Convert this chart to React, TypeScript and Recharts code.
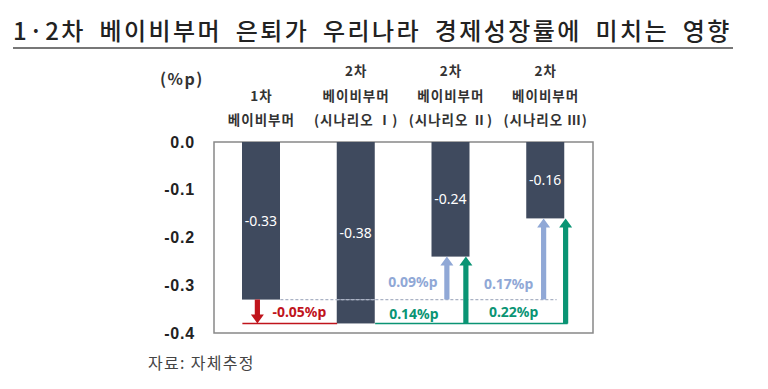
import {
  BarChart,
  Bar,
  XAxis,
  YAxis,
  LabelList,
  ReferenceLine,
  ReferenceDot,
  ReferenceArea,
} from 'recharts';

// category labels (multi-line, bottom aligned)
const categories = [
  ['1차', '베이비부머'],
  ['2차', '베이비부머', '(시나리오 Ⅰ)'],
  ['2차', '베이비부머', '(시나리오 Ⅱ)'],
  ['2차', '베이비부머', '(시나리오 Ⅲ)'],
];
const names = ['c1', 'c2', 'c3', 'c4'];
const values = [-0.33, -0.38, -0.24, -0.16];
const yTicks = [0, -0.1, -0.2, -0.3, -0.4];

// difference arrows: from level -> to level, anchored on a category
const diffCat = [0, 2, 2, 3, 3];
const diffFrom = [-0.33, -0.33, -0.38, -0.33, -0.38];
const diffTo = [-0.38, -0.24, -0.24, -0.16, -0.16];
const diffLabels = ['-0.05%p', '0.09%p', '0.14%p', '0.17%p', '0.22%p'];
const diffLabelY = [-0.356, -0.293, -0.361, -0.298, -0.357];

const BAR = '#3f4a5e';
const RED = '#c0141c';
const GREEN = '#0a9474';
const LIGHT = '#90a8d6';
const DASH = '#aab2c4';

// pixel offsets from the band centre (styling only)
const arrowDx = [-4, -4, 15, -2, 20];
const labelDx = [38, -38, -37, -37, -32];
const arrowColor = [RED, LIGHT, GREEN, LIGHT, GREEN];

const data = values.map((v, i) => ({ name: names[i], value: v }));

const CategoryTick = (props: any) => {
  const { x, y, payload } = props;
  const lines = categories[names.indexOf(payload.value)] || [];
  const offs = [-17, -41, -66];
  return (
    <g>
      {lines
        .slice()
        .reverse()
        .map((t, i) => (
          <text
            key={i}
            x={x}
            y={y + offs[i]}
            textAnchor='middle'
            fontSize={13.5}
            fontWeight={700}
            letterSpacing={1}
            fill='#333'
            fontFamily='"Noto Sans CJK KR", sans-serif'>
            {t}
          </text>
        ))}
    </g>
  );
};

// bar with the dashed baseline (-0.33 level) drawn over it where it crosses
const BarShape = (p: any) => {
  const { x, y, width, height, value } = p;
  const v = Array.isArray(value) ? value[1] : value;
  const top = Math.min(y, y + height);
  const h = Math.abs(height);
  const base = values[0];
  let dash = null;
  if (v < base) {
    // y is the value end, y + height is the zero line
    const yl = y + height * (1 - base / v);
    dash = (
      <line
        x1={x}
        x2={x + width}
        y1={yl}
        y2={yl}
        stroke={DASH}
        strokeWidth={1.2}
        strokeDasharray='3 2'
      />
    );
  }
  return (
    <g>
      <rect x={x} y={top} width={width} height={h} fill={BAR} />
      {dash}
    </g>
  );
};

const Arrow = (color: string, up: boolean, dx: number) => (p: any) => {
  const x = p.x1 + dx;
  const ya = p.y1;
  const tip = p.y2;
  const head = 9;
  const base = up ? tip + head : tip - head;
  const sw = 2.6;
  const hw = 6.5;
  return (
    <polygon
      points={`${x - sw},${ya} ${x + sw},${ya} ${x + sw},${base} ${x + hw},${base} ${x},${tip} ${x - hw},${base} ${x - sw},${base}`}
      fill={color}
    />
  );
};

const HLine =
  (dx1: number, dx2: number, stroke: string, dash?: string, w = 1.5) =>
  (p: any) => (
    <line
      x1={p.x1 + dx1}
      x2={p.x2 + dx2}
      y1={p.y1}
      y2={p.y2}
      stroke={stroke}
      strokeWidth={w}
      strokeDasharray={dash}
    />
  );

const TextDot = (label: string, color: string, dx: number) => (p: any) => (
  <text
    x={p.cx + dx}
    y={p.cy}
    dy={5}
    textAnchor='middle'
    fontSize={14}
    fontWeight={700}
    fill={color}
    fontFamily='"Noto Sans", sans-serif'>
    {label}
  </text>
);

export default function App() {
  return (
    <div
      style={{
        position: 'absolute',
        left: 0,
        top: 0,
        width: 768,
        height: 389,
        background: '#fff',
        fontFamily: '"Noto Sans CJK KR", sans-serif',
      }}>
      <div
        style={{
          position: 'absolute',
          left: 13,
          top: 16,
          width: 722,
          fontSize: 24,
          fontWeight: 500,
          letterSpacing: 2.4,
          wordSpacing: 6,
          color: '#222',
          lineHeight: '28px',
          whiteSpace: 'nowrap',
        }}>
        1·2차 베이비부머 은퇴가 우리나라 경제성장률에 미치는 영향
      </div>
      <div
        style={{
          position: 'absolute',
          left: 13,
          top: 47,
          width: 720,
          height: 1.5,
          background: '#777',
        }}
      />
      <div
        style={{
          position: 'absolute',
          left: 160,
          top: 66,
          fontSize: 16,
          lineHeight: '24px',
          fontWeight: 700,
          letterSpacing: 1.5,
          color: '#333',
        }}>
        (%p)
      </div>
      <div
        style={{
          position: 'absolute',
          left: 148,
          top: 350,
          fontSize: 16,
          lineHeight: '24px',
          letterSpacing: 1.3,
          color: '#444',
        }}>
        자료: 자체추정
      </div>
      <div style={{ position: 'absolute', left: 0, top: 0 }}>
        <BarChart
          width={768}
          height={389}
          data={data}
          margin={{ top: 42, right: 175, left: 154, bottom: 56 }}
          barCategoryGap={0}
          barSize={38}>
          <XAxis
            dataKey='name'
            orientation='top'
            height={100}
            axisLine={false}
            tickLine={false}
            tickSize={0}
            tickMargin={0}
            tick={<CategoryTick />}
            interval={0}
          />
          <YAxis
            type='number'
            domain={[-0.4, 0]}
            ticks={yTicks}
            width={60}
            axisLine={false}
            tickLine={false}
            tickSize={0}
            tickMargin={19}
            tickFormatter={(v: number) => (v === 0 ? '0.0' : v.toFixed(1))}
            tick={{
              fontSize: 16,
              fontWeight: 700,
              fill: '#222',
              letterSpacing: 0.8,
              fontFamily: '"Liberation Sans", Arial, sans-serif',
            }}
          />
          <ReferenceArea
            x1={names[0]}
            x2={names[3]}
            y1={-0.4}
            y2={0}
            fill='none'
            stroke='#888'
            strokeWidth={1.5}
            ifOverflow='visible'
          />
          <ReferenceLine
            segment={[
              { x: names[0], y: values[0] },
              { x: names[3], y: values[0] },
            ]}
            shape={HLine(19, 11, DASH, '3 2', 1.2)}
          />
          <ReferenceLine
            segment={[
              { x: names[0], y: values[1] },
              { x: names[1], y: values[1] },
            ]}
            shape={HLine(-19, -19, RED)}
          />
          <ReferenceLine
            segment={[
              { x: names[1], y: values[1] },
              { x: names[3], y: values[1] },
            ]}
            shape={HLine(19, 22, GREEN)}
          />
          <Bar
            dataKey='value'
            fill={BAR}
            shape={BarShape}
            isAnimationActive={false}>
            <LabelList
              dataKey='value'
              position='center'
              fill='#fff'
              fontSize={14}
              fontFamily='"Noto Sans", sans-serif'
            />
          </Bar>
          {diffFrom.map((f, i) => (
            <ReferenceLine
              key={'a' + i}
              segment={[
                { x: names[diffCat[i]], y: f },
                { x: names[diffCat[i]], y: diffTo[i] },
              ]}
              shape={Arrow(arrowColor[i], diffTo[i] > f, arrowDx[i])}
            />
          ))}
          {diffLabels.map((t, i) => (
            <ReferenceDot
              key={'l' + i}
              x={names[diffCat[i]]}
              y={diffLabelY[i]}
              r={0}
              shape={TextDot(t, arrowColor[i], labelDx[i])}
            />
          ))}
        </BarChart>
      </div>
    </div>
  );
}
